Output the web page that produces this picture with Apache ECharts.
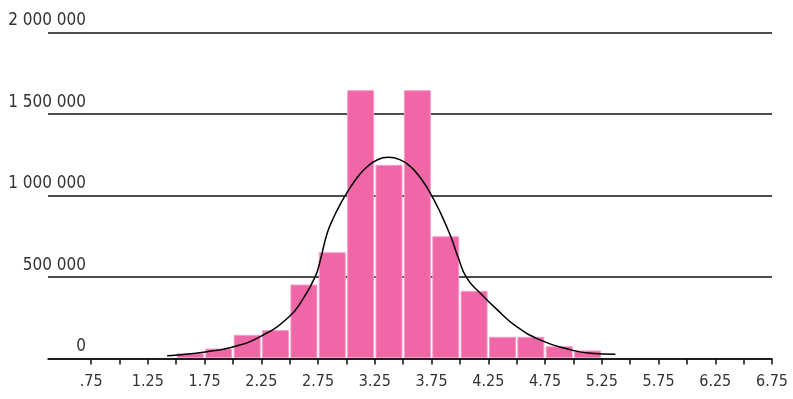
<!DOCTYPE html>
<html>
<head>
<meta charset="utf-8">
<script src="https://cdn.jsdelivr.net/npm/echarts@6/dist/echarts.min.js"></script>
<style>
html,body{margin:0;padding:0;background:#fff;}
#main{width:793px;height:399px;}
</style>
</head>
<body>
<div id="main"></div>
<script>
// Histogram bins
var binStart = [1.5, 1.75, 2.0, 2.25, 2.5, 2.75, 3.0, 3.25, 3.5, 3.75, 4.0, 4.25, 4.5, 4.75, 5.0];
var binEnd   = [1.75, 2.0, 2.25, 2.5, 2.75, 3.0, 3.25, 3.5, 3.75, 4.0, 4.25, 4.5, 4.75, 5.0, 5.25];
var counts   = [29000, 58000, 142000, 171000, 451000, 649000, 1643000, 1185000, 1643000, 747000, 412000, 130000, 130000, 72000, 46000];

// Fitted curve
var curveX = [1.42, 1.51, 1.77, 1.99, 2.24, 2.49, 2.62, 2.725, 2.77, 2.83, 2.89, 2.95, 3.02, 3.10, 3.18, 3.27, 3.37, 3.47, 3.56, 3.65, 3.74, 3.83, 3.92, 3.98, 4.06, 4.18, 4.33, 4.50, 4.71, 4.95, 5.15, 5.37];
var curveY = [17000, 21000, 42000, 69000, 134000, 253000, 369000, 502000, 604000, 768000, 870000, 952000, 1034000, 1115000, 1175000, 1218000, 1234000, 1220000, 1180000, 1110000, 1013000, 891000, 747000, 629000, 494000, 400000, 298000, 195000, 113000, 58000, 32000, 26000];

// Axis ticks and labels
var xTickValues  = [0.75, 1.0, 1.25, 1.5, 1.75, 2.0, 2.25, 2.5, 2.75, 3.0, 3.25, 3.5, 3.75, 4.0, 4.25, 4.5, 4.75, 5.0, 5.25, 5.5, 5.75, 6.0, 6.25, 6.5, 6.75];
var xLabelValues = [0.75, 1.25, 1.75, 2.25, 2.75, 3.25, 3.75, 4.25, 4.75, 5.25, 5.75, 6.25, 6.75];

var FONT = '"DejaVu Sans Condensed", "Liberation Sans", sans-serif';

var barData = binStart.map(function (s, i) { return [s, binEnd[i], counts[i]]; });
var curveData = curveX.map(function (x, i) { return [x, curveY[i]]; });

var chart = echarts.init(document.getElementById('main'), null, {renderer: 'canvas'});
chart.setOption({
  animation: false,
  backgroundColor: '#ffffff',
  grid: {left: 48, right: 21, top: 32.5, bottom: 40.5, containLabel: false, outerBoundsMode: 'none'},
  xAxis: {
    type: 'value',
    min: 0.37,
    max: 6.75,
    splitLine: {show: false},
    axisLine: {show: true, lineStyle: {color: '#111', width: 1.5}},
    axisTick: {show: true, customValues: xTickValues, length: 6, lineStyle: {color: '#111', width: 1.5}},
    axisLabel: {
      customValues: xLabelValues,
      margin: 15,
      color: '#333',
      fontFamily: FONT,
      fontSize: 16,
      formatter: function (v) {
        var s = v.toFixed(2);
        return s.charAt(0) === '0' ? s.slice(1) : s;
      }
    }
  },
  yAxis: {
    type: 'value',
    min: 0,
    max: 2000000,
    interval: 500000,
    axisLine: {show: false},
    axisTick: {show: false},
    splitLine: {show: true, lineStyle: {color: '#111', width: 1.5}},
    axisLabel: {
      inside: true,
      margin: 38,
      align: 'right',
      verticalAlign: 'bottom',
      padding: [0, 0, 3, 0],
      color: '#333',
      fontFamily: FONT,
      fontSize: 17,
      formatter: function (v) {
        return String(v).replace(/\B(?=(\d{3})+(?!\d))/g, ' ');
      }
    }
  },
  series: [
    {
      type: 'custom',
      data: barData,
      encode: {x: [0, 1], y: 2},
      z: 2,
      renderItem: function (params, api) {
        var p0 = api.coord([api.value(0), api.value(2)]);
        var p1 = api.coord([api.value(1), 0]);
        var inset = 1.2;
        return {
          type: 'rect',
          shape: {x: p0[0] + inset, y: p0[1], width: p1[0] - p0[0] - 2 * inset, height: p1[1] - p0[1] - 1},
          style: {fill: '#f067a8', stroke: '#f59cc6', lineWidth: 1}
        };
      }
    },
    {
      type: 'line',
      data: curveData,
      smooth: 0.5,
      showSymbol: false,
      z: 3,
      lineStyle: {color: '#000', width: 1.5}
    }
  ]
});
</script>
</body>
</html>
